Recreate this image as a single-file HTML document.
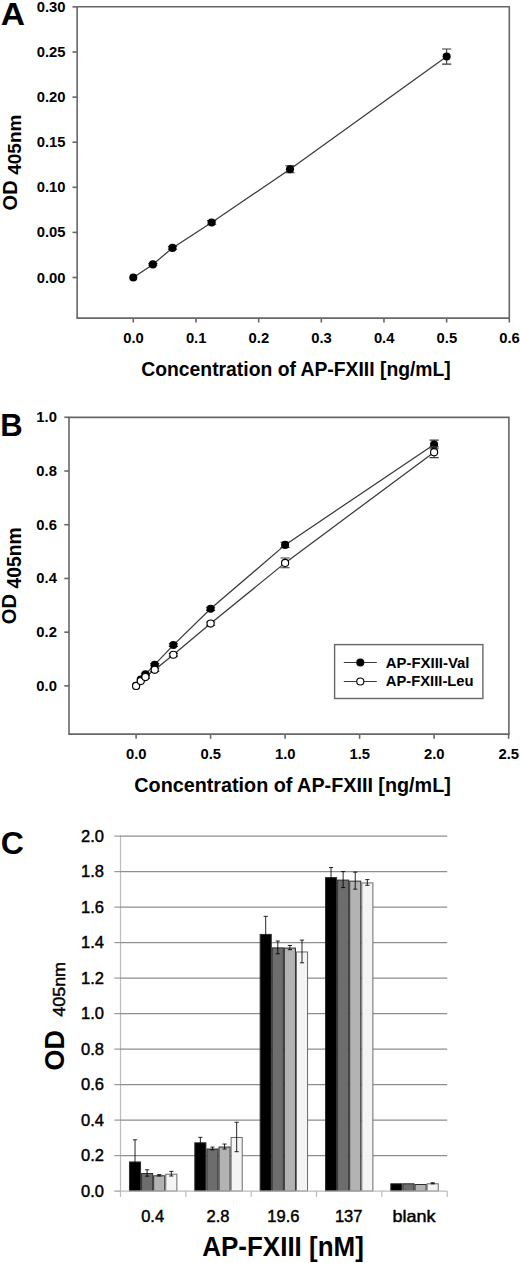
<!DOCTYPE html>
<html><head><meta charset="utf-8"><style>
html,body{margin:0;padding:0;background:#fff;}
svg{display:block;}
text{font-family:"Liberation Sans", sans-serif;fill:#000;}
</style></head><body>
<svg width="520" height="1263" viewBox="0 0 520 1263">
<rect width="520" height="1263" fill="#fff"/>
<text x="12.9" y="24.5" font-size="30.5" font-weight="bold" text-anchor="middle" transform="translate(12.9 0) scale(1.1 1) translate(-12.9 0)">A</text>
<line x1="76.35" y1="6.8" x2="510" y2="6.8" stroke="#676767" stroke-width="1.6"/>
<line x1="76.35" y1="318.1" x2="510" y2="318.1" stroke="#676767" stroke-width="1.6"/>
<line x1="77.15" y1="6.8" x2="77.15" y2="318.1" stroke="#676767" stroke-width="1.6"/>
<line x1="509.3" y1="6.8" x2="509.3" y2="318.1" stroke="#676767" stroke-width="1.6"/>
<line x1="72.5" y1="277.5" x2="77.15" y2="277.5" stroke="#676767" stroke-width="1.6"/>
<text x="65.5" y="282.5" font-size="14.8" font-weight="bold" text-anchor="end" >0.00</text>
<line x1="72.5" y1="232.4" x2="77.15" y2="232.4" stroke="#676767" stroke-width="1.6"/>
<text x="65.5" y="237.4" font-size="14.8" font-weight="bold" text-anchor="end" >0.05</text>
<line x1="72.5" y1="187.3" x2="77.15" y2="187.3" stroke="#676767" stroke-width="1.6"/>
<text x="65.5" y="192.3" font-size="14.8" font-weight="bold" text-anchor="end" >0.10</text>
<line x1="72.5" y1="142.2" x2="77.15" y2="142.2" stroke="#676767" stroke-width="1.6"/>
<text x="65.5" y="147.2" font-size="14.8" font-weight="bold" text-anchor="end" >0.15</text>
<line x1="72.5" y1="97.1" x2="77.15" y2="97.1" stroke="#676767" stroke-width="1.6"/>
<text x="65.5" y="102.1" font-size="14.8" font-weight="bold" text-anchor="end" >0.20</text>
<line x1="72.5" y1="52" x2="77.15" y2="52" stroke="#676767" stroke-width="1.6"/>
<text x="65.5" y="57" font-size="14.8" font-weight="bold" text-anchor="end" >0.25</text>
<line x1="72.5" y1="6.9" x2="77.15" y2="6.9" stroke="#676767" stroke-width="1.6"/>
<text x="65.5" y="11.9" font-size="14.8" font-weight="bold" text-anchor="end" >0.30</text>
<line x1="133.3" y1="318.1" x2="133.3" y2="322.5" stroke="#676767" stroke-width="1.6"/>
<text x="133.5" y="343" font-size="14.8" font-weight="bold" text-anchor="middle" >0.0</text>
<line x1="195.97" y1="318.1" x2="195.97" y2="322.5" stroke="#676767" stroke-width="1.6"/>
<text x="196.17" y="343" font-size="14.8" font-weight="bold" text-anchor="middle" >0.1</text>
<line x1="258.64" y1="318.1" x2="258.64" y2="322.5" stroke="#676767" stroke-width="1.6"/>
<text x="258.84" y="343" font-size="14.8" font-weight="bold" text-anchor="middle" >0.2</text>
<line x1="321.31" y1="318.1" x2="321.31" y2="322.5" stroke="#676767" stroke-width="1.6"/>
<text x="321.51" y="343" font-size="14.8" font-weight="bold" text-anchor="middle" >0.3</text>
<line x1="383.98" y1="318.1" x2="383.98" y2="322.5" stroke="#676767" stroke-width="1.6"/>
<text x="384.18" y="343" font-size="14.8" font-weight="bold" text-anchor="middle" >0.4</text>
<line x1="446.65" y1="318.1" x2="446.65" y2="322.5" stroke="#676767" stroke-width="1.6"/>
<text x="446.85" y="343" font-size="14.8" font-weight="bold" text-anchor="middle" >0.5</text>
<line x1="509.32" y1="318.1" x2="509.32" y2="322.5" stroke="#676767" stroke-width="1.6"/>
<text x="509.52" y="343" font-size="14.8" font-weight="bold" text-anchor="middle" >0.6</text>
<text x="141.3" y="375.5" font-size="19.9" font-weight="bold" text-anchor="start" textLength="309.5" lengthAdjust="spacingAndGlyphs">Concentration of AP-FXIII [ng/mL]</text>
<text transform="translate(16.5,162.5) rotate(-90)" font-size="20" font-weight="bold" text-anchor="middle">OD <tspan dy="4.6" font-size="19">405nm</tspan></text>
<polyline points="133.30,277.50 152.88,264.42 172.47,247.91 211.64,222.48 289.98,169.26 446.65,56.51" fill="none" stroke="#3a3a3a" stroke-width="1.25"/>
<circle cx="133.30" cy="277.50" r="4.05" fill="#000"/>
<path d="M152.88 263.52V265.32M148.28 263.52H157.48M148.28 265.32H157.48" stroke="#3a3a3a" stroke-width="1.1" fill="none"/>
<circle cx="152.88" cy="264.42" r="4.05" fill="#000"/>
<path d="M172.47 246.56V249.27M167.87 246.56H177.07M167.87 249.27H177.07" stroke="#3a3a3a" stroke-width="1.1" fill="none"/>
<circle cx="172.47" cy="247.91" r="4.05" fill="#000"/>
<path d="M211.64 220.67V224.28M207.04 220.67H216.24M207.04 224.28H216.24" stroke="#3a3a3a" stroke-width="1.1" fill="none"/>
<circle cx="211.64" cy="222.48" r="4.05" fill="#000"/>
<path d="M289.98 165.74V172.78M285.38 165.74H294.58M285.38 172.78H294.58" stroke="#3a3a3a" stroke-width="1.1" fill="none"/>
<circle cx="289.98" cy="169.26" r="4.05" fill="#000"/>
<path d="M446.65 48.93V64.09M442.05 48.93H451.25M442.05 64.09H451.25" stroke="#3a3a3a" stroke-width="1.1" fill="none"/>
<circle cx="446.65" cy="56.51" r="4.05" fill="#000"/>
<text x="11.5" y="435.8" font-size="31" font-weight="bold" text-anchor="middle" >B</text>
<line x1="68.2" y1="417.4" x2="509.6" y2="417.4" stroke="#676767" stroke-width="1.6"/>
<line x1="68.2" y1="734.1" x2="509.6" y2="734.1" stroke="#676767" stroke-width="1.6"/>
<line x1="69" y1="417.4" x2="69" y2="734.1" stroke="#676767" stroke-width="1.6"/>
<line x1="508.9" y1="417.4" x2="508.9" y2="734.1" stroke="#676767" stroke-width="1.6"/>
<line x1="64.3" y1="685.9" x2="69" y2="685.9" stroke="#676767" stroke-width="1.6"/>
<text x="56.9" y="690.9" font-size="14.8" font-weight="bold" text-anchor="end" >0.0</text>
<line x1="64.3" y1="632.18" x2="69" y2="632.18" stroke="#676767" stroke-width="1.6"/>
<text x="56.9" y="637.18" font-size="14.8" font-weight="bold" text-anchor="end" >0.2</text>
<line x1="64.3" y1="578.46" x2="69" y2="578.46" stroke="#676767" stroke-width="1.6"/>
<text x="56.9" y="583.46" font-size="14.8" font-weight="bold" text-anchor="end" >0.4</text>
<line x1="64.3" y1="524.74" x2="69" y2="524.74" stroke="#676767" stroke-width="1.6"/>
<text x="56.9" y="529.74" font-size="14.8" font-weight="bold" text-anchor="end" >0.6</text>
<line x1="64.3" y1="471.02" x2="69" y2="471.02" stroke="#676767" stroke-width="1.6"/>
<text x="56.9" y="476.02" font-size="14.8" font-weight="bold" text-anchor="end" >0.8</text>
<line x1="64.3" y1="417.3" x2="69" y2="417.3" stroke="#676767" stroke-width="1.6"/>
<text x="56.9" y="422.3" font-size="14.8" font-weight="bold" text-anchor="end" >1.0</text>
<line x1="136.1" y1="734.1" x2="136.1" y2="738.8" stroke="#676767" stroke-width="1.6"/>
<text x="136.3" y="759.3" font-size="14.8" font-weight="bold" text-anchor="middle" >0.0</text>
<line x1="210.6" y1="734.1" x2="210.6" y2="738.8" stroke="#676767" stroke-width="1.6"/>
<text x="210.8" y="759.3" font-size="14.8" font-weight="bold" text-anchor="middle" >0.5</text>
<line x1="285.1" y1="734.1" x2="285.1" y2="738.8" stroke="#676767" stroke-width="1.6"/>
<text x="285.3" y="759.3" font-size="14.8" font-weight="bold" text-anchor="middle" >1.0</text>
<line x1="359.6" y1="734.1" x2="359.6" y2="738.8" stroke="#676767" stroke-width="1.6"/>
<text x="359.8" y="759.3" font-size="14.8" font-weight="bold" text-anchor="middle" >1.5</text>
<line x1="434.1" y1="734.1" x2="434.1" y2="738.8" stroke="#676767" stroke-width="1.6"/>
<text x="434.3" y="759.3" font-size="14.8" font-weight="bold" text-anchor="middle" >2.0</text>
<line x1="508.6" y1="734.1" x2="508.6" y2="738.8" stroke="#676767" stroke-width="1.6"/>
<text x="508.8" y="759.3" font-size="14.8" font-weight="bold" text-anchor="middle" >2.5</text>
<text x="134.3" y="792.4" font-size="20.0" font-weight="bold" text-anchor="start" textLength="316.5" lengthAdjust="spacingAndGlyphs">Concentration of AP-FXIII [ng/mL]</text>
<text transform="translate(16.2,575.8) rotate(-90)" font-size="20.2" font-weight="bold" text-anchor="middle">OD <tspan dy="4.6" font-size="19.3">405nm</tspan></text>
<polyline points="136.10,685.90 140.76,679.45 145.41,674.35 154.72,664.68 173.35,645.07 210.60,608.81 285.10,544.88 434.10,444.43" fill="none" stroke="#3a3a3a" stroke-width="1.25"/>
<polyline points="136.10,685.90 140.76,681.07 145.41,677.04 154.72,669.78 173.35,654.74 210.60,623.58 285.10,562.88 434.10,452.22" fill="none" stroke="#3a3a3a" stroke-width="1.25"/>
<circle cx="136.10" cy="685.90" r="4.05" fill="#000"/>
<circle cx="140.76" cy="679.45" r="4.05" fill="#000"/>
<path d="M145.41 673.28V675.42M140.81 673.28H150.01M140.81 675.42H150.01" stroke="#3a3a3a" stroke-width="1.1" fill="none"/>
<circle cx="145.41" cy="674.35" r="4.05" fill="#000"/>
<path d="M154.72 663.61V665.75M150.12 663.61H159.32M150.12 665.75H159.32" stroke="#3a3a3a" stroke-width="1.1" fill="none"/>
<circle cx="154.72" cy="664.68" r="4.05" fill="#000"/>
<path d="M173.35 643.73V646.42M168.75 643.73H177.95M168.75 646.42H177.95" stroke="#3a3a3a" stroke-width="1.1" fill="none"/>
<circle cx="173.35" cy="645.07" r="4.05" fill="#000"/>
<path d="M210.60 607.20V610.42M206.00 607.20H215.20M206.00 610.42H215.20" stroke="#3a3a3a" stroke-width="1.1" fill="none"/>
<circle cx="210.60" cy="608.81" r="4.05" fill="#000"/>
<path d="M285.10 542.20V547.57M280.50 542.20H289.70M280.50 547.57H289.70" stroke="#3a3a3a" stroke-width="1.1" fill="none"/>
<circle cx="285.10" cy="544.88" r="4.05" fill="#000"/>
<path d="M434.10 440.13V448.73M429.50 440.13H438.70M429.50 448.73H438.70" stroke="#3a3a3a" stroke-width="1.1" fill="none"/>
<circle cx="434.10" cy="444.43" r="4.05" fill="#000"/>
<circle cx="136.10" cy="685.90" r="3.55" fill="#fff" stroke="#000" stroke-width="1.1"/>
<circle cx="140.76" cy="681.07" r="3.55" fill="#fff" stroke="#000" stroke-width="1.1"/>
<path d="M145.41 675.96V678.11M140.81 675.96H150.01M140.81 678.11H150.01" stroke="#3a3a3a" stroke-width="1.1" fill="none"/>
<circle cx="145.41" cy="677.04" r="3.55" fill="#fff" stroke="#000" stroke-width="1.1"/>
<path d="M154.72 668.17V671.40M150.12 668.17H159.32M150.12 671.40H159.32" stroke="#3a3a3a" stroke-width="1.1" fill="none"/>
<circle cx="154.72" cy="669.78" r="3.55" fill="#fff" stroke="#000" stroke-width="1.1"/>
<path d="M173.35 653.40V656.09M168.75 653.40H177.95M168.75 656.09H177.95" stroke="#3a3a3a" stroke-width="1.1" fill="none"/>
<circle cx="173.35" cy="654.74" r="3.55" fill="#fff" stroke="#000" stroke-width="1.1"/>
<path d="M210.60 621.97V625.20M206.00 621.97H215.20M206.00 625.20H215.20" stroke="#3a3a3a" stroke-width="1.1" fill="none"/>
<circle cx="210.60" cy="623.58" r="3.55" fill="#fff" stroke="#000" stroke-width="1.1"/>
<path d="M285.10 558.05V567.72M280.50 558.05H289.70M280.50 567.72H289.70" stroke="#3a3a3a" stroke-width="1.1" fill="none"/>
<circle cx="285.10" cy="562.88" r="3.55" fill="#fff" stroke="#000" stroke-width="1.1"/>
<path d="M434.10 446.85V457.59M429.50 446.85H438.70M429.50 457.59H438.70" stroke="#3a3a3a" stroke-width="1.1" fill="none"/>
<circle cx="434.10" cy="452.22" r="3.55" fill="#fff" stroke="#000" stroke-width="1.1"/>
<rect x="334.6" y="644.6" width="148.3" height="53.9" fill="#fff" stroke="#676767" stroke-width="1.4"/>
<line x1="343.8" y1="662.5" x2="376.8" y2="662.5" stroke="#3a3a3a" stroke-width="1.1"/>
<circle cx="360.3" cy="662.5" r="4.05" fill="#000"/>
<line x1="343.8" y1="681.5" x2="376.8" y2="681.5" stroke="#3a3a3a" stroke-width="1.1"/>
<circle cx="360.3" cy="681.5" r="3.55" fill="#fff" stroke="#000" stroke-width="1.1"/>
<text x="385.8" y="668.2" font-size="14.5" font-weight="bold" text-anchor="start" textLength="83.7" lengthAdjust="spacingAndGlyphs">AP-FXIII-Val</text>
<text x="385.8" y="686.2" font-size="14.5" font-weight="bold" text-anchor="start" textLength="87.8" lengthAdjust="spacingAndGlyphs">AP-FXIII-Leu</text>
<text x="12.3" y="854.3" font-size="32" font-weight="bold" text-anchor="middle" >C</text>
<line x1="120.5" y1="835.6" x2="120.5" y2="1197" stroke="#bcbcbc" stroke-width="1.2"/>
<line x1="120" y1="1155.6" x2="447.2" y2="1155.6" stroke="#8e8e8e" stroke-width="1.25"/>
<line x1="120" y1="1120.1" x2="447.2" y2="1120.1" stroke="#8e8e8e" stroke-width="1.25"/>
<line x1="120" y1="1084.6" x2="447.2" y2="1084.6" stroke="#8e8e8e" stroke-width="1.25"/>
<line x1="120" y1="1049.1" x2="447.2" y2="1049.1" stroke="#8e8e8e" stroke-width="1.25"/>
<line x1="120" y1="1013.6" x2="447.2" y2="1013.6" stroke="#8e8e8e" stroke-width="1.25"/>
<line x1="120" y1="978.1" x2="447.2" y2="978.1" stroke="#8e8e8e" stroke-width="1.25"/>
<line x1="120" y1="942.6" x2="447.2" y2="942.6" stroke="#8e8e8e" stroke-width="1.25"/>
<line x1="120" y1="907.1" x2="447.2" y2="907.1" stroke="#8e8e8e" stroke-width="1.25"/>
<line x1="120" y1="871.6" x2="447.2" y2="871.6" stroke="#8e8e8e" stroke-width="1.25"/>
<line x1="120" y1="836.1" x2="447.2" y2="836.1" stroke="#8e8e8e" stroke-width="1.25"/>
<line x1="114.3" y1="1191.1" x2="120.5" y2="1191.1" stroke="#9a9a9a" stroke-width="1.2"/>
<text x="104" y="1196.5" font-size="16.5" font-weight="normal" text-anchor="end" stroke="#000" stroke-width="0.45">0.0</text>
<line x1="114.3" y1="1155.6" x2="120.5" y2="1155.6" stroke="#9a9a9a" stroke-width="1.2"/>
<text x="104" y="1161" font-size="16.5" font-weight="normal" text-anchor="end" stroke="#000" stroke-width="0.45">0.2</text>
<line x1="114.3" y1="1120.1" x2="120.5" y2="1120.1" stroke="#9a9a9a" stroke-width="1.2"/>
<text x="104" y="1125.5" font-size="16.5" font-weight="normal" text-anchor="end" stroke="#000" stroke-width="0.45">0.4</text>
<line x1="114.3" y1="1084.6" x2="120.5" y2="1084.6" stroke="#9a9a9a" stroke-width="1.2"/>
<text x="104" y="1090" font-size="16.5" font-weight="normal" text-anchor="end" stroke="#000" stroke-width="0.45">0.6</text>
<line x1="114.3" y1="1049.1" x2="120.5" y2="1049.1" stroke="#9a9a9a" stroke-width="1.2"/>
<text x="104" y="1054.5" font-size="16.5" font-weight="normal" text-anchor="end" stroke="#000" stroke-width="0.45">0.8</text>
<line x1="114.3" y1="1013.6" x2="120.5" y2="1013.6" stroke="#9a9a9a" stroke-width="1.2"/>
<text x="104" y="1019" font-size="16.5" font-weight="normal" text-anchor="end" stroke="#000" stroke-width="0.45">1.0</text>
<line x1="114.3" y1="978.1" x2="120.5" y2="978.1" stroke="#9a9a9a" stroke-width="1.2"/>
<text x="104" y="983.5" font-size="16.5" font-weight="normal" text-anchor="end" stroke="#000" stroke-width="0.45">1.2</text>
<line x1="114.3" y1="942.6" x2="120.5" y2="942.6" stroke="#9a9a9a" stroke-width="1.2"/>
<text x="104" y="948" font-size="16.5" font-weight="normal" text-anchor="end" stroke="#000" stroke-width="0.45">1.4</text>
<line x1="114.3" y1="907.1" x2="120.5" y2="907.1" stroke="#9a9a9a" stroke-width="1.2"/>
<text x="104" y="912.5" font-size="16.5" font-weight="normal" text-anchor="end" stroke="#000" stroke-width="0.45">1.6</text>
<line x1="114.3" y1="871.6" x2="120.5" y2="871.6" stroke="#9a9a9a" stroke-width="1.2"/>
<text x="104" y="877" font-size="16.5" font-weight="normal" text-anchor="end" stroke="#000" stroke-width="0.45">1.8</text>
<line x1="114.3" y1="836.1" x2="120.5" y2="836.1" stroke="#9a9a9a" stroke-width="1.2"/>
<text x="104" y="841.5" font-size="16.5" font-weight="normal" text-anchor="end" stroke="#000" stroke-width="0.45">2.0</text>
<text x="152.67" y="1222" font-size="16.5" font-weight="normal" text-anchor="middle" stroke="#000" stroke-width="0.45">0.4</text>
<text x="218.01" y="1222" font-size="16.5" font-weight="normal" text-anchor="middle" stroke="#000" stroke-width="0.45">2.8</text>
<text x="283.35" y="1222" font-size="16.5" font-weight="normal" text-anchor="middle" stroke="#000" stroke-width="0.45">19.6</text>
<text x="348.69" y="1222" font-size="16.5" font-weight="normal" text-anchor="middle" stroke="#000" stroke-width="0.45">137</text>
<text x="414.03" y="1222" font-size="16.5" font-weight="normal" text-anchor="middle" stroke="#000" stroke-width="0.45" textLength="43" lengthAdjust="spacingAndGlyphs">blank</text>
<rect x="129.47" y="1161.96" width="11.10" height="29.14" fill="#000000" stroke="#2e2e2e" stroke-width="1"/>
<rect x="141.57" y="1173.49" width="11.10" height="17.61" fill="#6d6d6d" stroke="#2e2e2e" stroke-width="1"/>
<rect x="153.67" y="1175.80" width="11.10" height="15.30" fill="#b3b3b3" stroke="#2e2e2e" stroke-width="1"/>
<rect x="165.77" y="1174.20" width="11.10" height="16.89" fill="#f4f4f4" stroke="#6a6a6a" stroke-width="1"/>
<rect x="194.81" y="1142.79" width="11.10" height="48.31" fill="#000000" stroke="#2e2e2e" stroke-width="1"/>
<rect x="206.91" y="1149.00" width="11.10" height="42.10" fill="#6d6d6d" stroke="#2e2e2e" stroke-width="1"/>
<rect x="219.01" y="1147.05" width="11.10" height="44.05" fill="#b3b3b3" stroke="#2e2e2e" stroke-width="1"/>
<rect x="231.11" y="1137.46" width="11.10" height="53.64" fill="#f4f4f4" stroke="#6a6a6a" stroke-width="1"/>
<rect x="260.15" y="934.40" width="11.10" height="256.70" fill="#000000" stroke="#2e2e2e" stroke-width="1"/>
<rect x="272.25" y="947.89" width="11.10" height="243.21" fill="#6d6d6d" stroke="#2e2e2e" stroke-width="1"/>
<rect x="284.35" y="948.07" width="11.10" height="243.03" fill="#b3b3b3" stroke="#2e2e2e" stroke-width="1"/>
<rect x="296.45" y="951.97" width="11.10" height="239.12" fill="#f4f4f4" stroke="#6a6a6a" stroke-width="1"/>
<rect x="325.49" y="877.60" width="11.10" height="313.50" fill="#000000" stroke="#2e2e2e" stroke-width="1"/>
<rect x="337.59" y="880.09" width="11.10" height="311.01" fill="#6d6d6d" stroke="#2e2e2e" stroke-width="1"/>
<rect x="349.69" y="881.15" width="11.10" height="309.95" fill="#b3b3b3" stroke="#2e2e2e" stroke-width="1"/>
<rect x="361.79" y="882.93" width="11.10" height="308.17" fill="#f4f4f4" stroke="#6a6a6a" stroke-width="1"/>
<rect x="390.83" y="1183.79" width="11.10" height="7.31" fill="#000000" stroke="#2e2e2e" stroke-width="1"/>
<rect x="402.93" y="1183.79" width="11.10" height="7.31" fill="#6d6d6d" stroke="#2e2e2e" stroke-width="1"/>
<rect x="415.03" y="1184.50" width="11.10" height="6.60" fill="#b3b3b3" stroke="#2e2e2e" stroke-width="1"/>
<rect x="427.13" y="1183.79" width="11.10" height="7.31" fill="#f4f4f4" stroke="#6a6a6a" stroke-width="1"/>
<path d="M135.02 1139.80V1183.11M132.92 1139.80H137.12M132.92 1183.11H137.12" stroke="#000" stroke-width="0.85" fill="none"/>
<path d="M147.12 1169.80V1176.19M145.02 1169.80H149.22M145.02 1176.19H149.22" stroke="#000" stroke-width="0.85" fill="none"/>
<path d="M159.22 1174.59V1176.01M157.12 1174.59H161.32M157.12 1176.01H161.32" stroke="#000" stroke-width="0.85" fill="none"/>
<path d="M171.32 1171.40V1176.01M169.22 1171.40H173.42M169.22 1176.01H173.42" stroke="#000" stroke-width="0.85" fill="none"/>
<path d="M200.36 1137.32V1147.26M198.26 1137.32H202.46M198.26 1147.26H202.46" stroke="#000" stroke-width="0.85" fill="none"/>
<path d="M212.46 1147.08V1149.92M210.36 1147.08H214.56M210.36 1149.92H214.56" stroke="#000" stroke-width="0.85" fill="none"/>
<path d="M224.56 1144.06V1149.03M222.46 1144.06H226.66M222.46 1149.03H226.66" stroke="#000" stroke-width="0.85" fill="none"/>
<path d="M236.66 1122.23V1151.69M234.56 1122.23H238.76M234.56 1151.69H238.76" stroke="#000" stroke-width="0.85" fill="none"/>
<path d="M265.70 916.33V951.47M263.60 916.33H267.80M263.60 951.47H267.80" stroke="#000" stroke-width="0.85" fill="none"/>
<path d="M277.80 941.00V953.78M275.70 941.00H279.90M275.70 953.78H279.90" stroke="#000" stroke-width="0.85" fill="none"/>
<path d="M289.90 945.44V949.70M287.80 945.44H292.00M287.80 949.70H292.00" stroke="#000" stroke-width="0.85" fill="none"/>
<path d="M302.00 940.11V962.83M299.90 940.11H304.10M299.90 962.83H304.10" stroke="#000" stroke-width="0.85" fill="none"/>
<path d="M331.04 867.52V886.69M328.94 867.52H333.14M328.94 886.69H333.14" stroke="#000" stroke-width="0.85" fill="none"/>
<path d="M343.14 871.60V887.57M341.04 871.60H345.24M341.04 887.57H345.24" stroke="#000" stroke-width="0.85" fill="none"/>
<path d="M355.24 872.13V889.17M353.14 872.13H357.34M353.14 889.17H357.34" stroke="#000" stroke-width="0.85" fill="none"/>
<path d="M367.34 879.59V885.27M365.24 879.59H369.44M365.24 885.27H369.44" stroke="#000" stroke-width="0.85" fill="none"/>
<path d="M432.68 1182.76V1183.82M430.58 1182.76H434.78M430.58 1183.82H434.78" stroke="#000" stroke-width="0.85" fill="none"/>
<line x1="120" y1="1191.1" x2="447.2" y2="1191.1" stroke="#bcbcbc" stroke-width="1.2"/>
<line x1="185.84" y1="1191.1" x2="185.84" y2="1197" stroke="#bcbcbc" stroke-width="1.2"/>
<line x1="251.18" y1="1191.1" x2="251.18" y2="1197" stroke="#bcbcbc" stroke-width="1.2"/>
<line x1="316.52" y1="1191.1" x2="316.52" y2="1197" stroke="#bcbcbc" stroke-width="1.2"/>
<line x1="381.86" y1="1191.1" x2="381.86" y2="1197" stroke="#bcbcbc" stroke-width="1.2"/>
<line x1="447.2" y1="1191.1" x2="447.2" y2="1197" stroke="#bcbcbc" stroke-width="1.2"/>
<text x="202.3" y="1256" font-size="27.3" font-weight="bold" text-anchor="start" textLength="161.5" lengthAdjust="spacingAndGlyphs">AP-FXIII [nM]</text>
<text transform="translate(63.8,1050.3) rotate(-90)" font-size="27" font-weight="bold" text-anchor="middle">OD</text>
<text transform="translate(65.2,989.35) rotate(-90)" font-size="16.9" font-weight="normal" text-anchor="middle" textLength="54.6" lengthAdjust="spacingAndGlyphs" stroke="#000" stroke-width="0.45">405nm</text>
</svg>
</body></html>
